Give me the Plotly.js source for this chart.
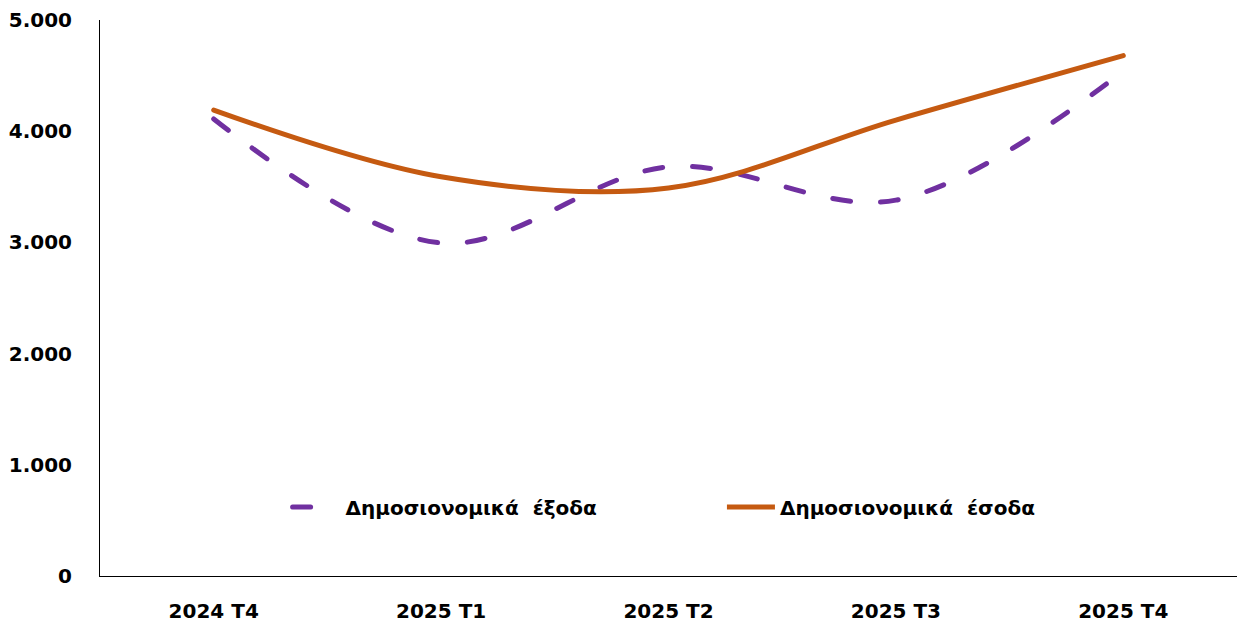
<!DOCTYPE html>
<html>
<head>
<meta charset="utf-8">
<script src="https://cdn.plot.ly/plotly-3.0.1.min.js"></script>
<style>
html,body{margin:0;padding:0;background:#fff;}
.scatterlayer path.js-line, .legend path.js-line {stroke-linecap: round;}
</style>
</head>
<body>
<div id="chart" style="width:1237px;height:625px;"></div>
<script>
const categories = ["2024 T4", "2025 T1", "2025 T2", "2025 T3", "2025 T4"];
const expenses = [4110, 2995, 3680, 3380, 4540];
const revenues = [4190, 3590, 3490, 4100, 4680];
const yTickVals = [0, 1000, 2000, 3000, 4000, 5000];
const yTickText = ["0", "1.000", "2.000", "3.000", "4.000", "5.000"];
const nameExp = "Δημοσιονομικά  έξοδα";
const nameRev = "Δημοσιονομικά  έσοδα";

const fam = "DejaVu Sans, Verdana, sans-serif";
const boldFont = {family: fam, size: 20, color: "#000", weight: "bold"};

const traces = [
  {x: categories, y: expenses, name: nameExp, type: "scatter", mode: "lines", legend: "legend",
   line: {color: "#7030A0", width: 5, dash: "18px,30px", shape: "spline", smoothing: 1}},
  {x: categories, y: revenues, name: nameRev, type: "scatter", mode: "lines", legend: "legend2",
   line: {color: "#C55A11", width: 5, shape: "spline", smoothing: 1}}
];

const layout = {
  width: 1237, height: 625,
  margin: {l: 100, r: 0, t: 20, b: 49},
  paper_bgcolor: "#fff", plot_bgcolor: "#fff",
  font: boldFont,
  showlegend: true,
  legend: {orientation: "h", x: 0.165, xanchor: "left", y: 0.124, yanchor: "middle",
           font: boldFont, bgcolor: "rgba(0,0,0,0)", itemwidth: 48},
  legend2: {orientation: "h", x: 0.547, xanchor: "left", y: 0.124, yanchor: "middle",
           font: boldFont, bgcolor: "rgba(0,0,0,0)", itemwidth: 48},
  xaxis: {type: "category", range: [-0.5, 4.5], showgrid: false, zeroline: false,
          showline: true, linecolor: "#000", linewidth: 1, ticks: "",
          ticklabelstandoff: 17, tickfont: boldFont},
  yaxis: {range: [0, 5000], tickvals: yTickVals, ticktext: yTickText, showgrid: false,
          zeroline: false, showline: true, linecolor: "#000", linewidth: 1, ticks: "",
          ticklabelstandoff: 23, tickfont: boldFont}
};

Plotly.newPlot("chart", traces, layout, {displayModeBar: false, staticPlot: true});
</script>
</body>
</html>
